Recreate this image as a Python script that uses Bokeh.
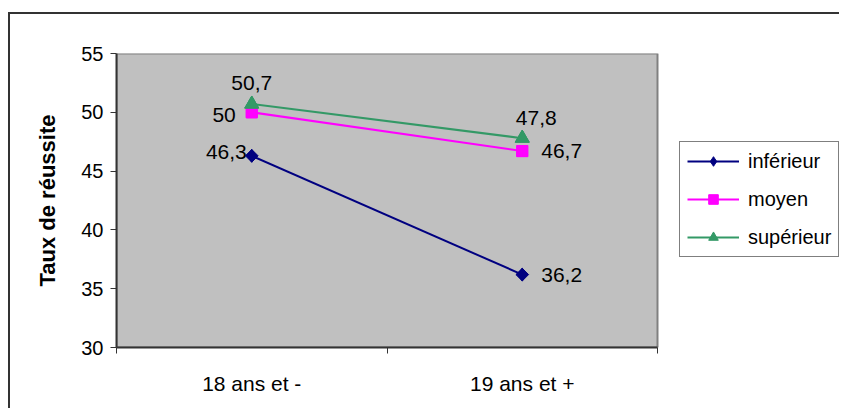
import math

from bokeh.core.properties import field, value
from bokeh.embed import file_html
from bokeh.layouts import column
from bokeh.models import (ColumnDataSource, FixedTicker, Legend, LegendItem,
                          Range1d)
from bokeh.plotting import figure
from bokeh.resources import INLINE

# Age groups on the x axis
categories = ["18 ans et -", "19 ans et +"]

# Success rate (%) per level
inferieur = [46.3, 36.2]
moyen = [50.0, 46.7]
superieur = [50.7, 47.8]

series_names = ["inférieur", "moyen", "supérieur"]
y_ticks = [30, 35, 40, 45, 50, 55]
y_lo, y_hi = 30, 55

FONT = "Liberation Sans"

n = len(categories)
xs = [i + 0.5 for i in range(n)]

# The frame runs on to the right edge so the legend can sit beside the plot
# area; the grey plot area itself covers x = 0..n.
PLOT_W, FRAME_W = 541, 723
x_end = n * FRAME_W / PLOT_W

p = figure(width=829, height=394,
           x_range=Range1d(0, x_end), y_range=Range1d(y_lo, y_hi),
           output_backend="svg", toolbar_location=None,
           min_border_left=106, min_border_right=0,
           min_border_top=39, min_border_bottom=61)

p.background_fill_color = "white"
p.border_fill_color = "white"
p.outline_line_color = None
p.grid.visible = False

# grey plot area
p.quad(left=[0], right=[n], bottom=[y_lo], top=[y_hi],
       fill_color="#C0C0C0", line_color="#808080", line_width=2)

# y axis
p.yaxis.ticker = FixedTicker(ticks=y_ticks)
p.yaxis.axis_line_color = "#333333"
p.yaxis.axis_line_width = 2
p.yaxis.major_tick_line_color = "#333333"
p.yaxis.major_tick_out = 6
p.yaxis.major_tick_in = 0
p.yaxis.minor_tick_line_color = None
p.yaxis.major_label_text_font = FONT
p.yaxis.major_label_text_font_size = "20px"
p.yaxis.major_label_text_color = "black"
p.yaxis.major_label_standoff = 7
p.yaxis.axis_label = "Taux de réussite"
p.yaxis.axis_label_text_font = FONT
p.yaxis.axis_label_text_font_size = "22px"
p.yaxis.axis_label_text_font_style = "bold"
p.yaxis.axis_label_text_color = "black"
p.yaxis.axis_label_standoff = 18

# x axis: labels at category centres, tick marks at category boundaries
p.xaxis.bounds = (0, n)
p.xaxis.ticker = FixedTicker(ticks=xs, minor_ticks=list(range(n + 1)))
p.xaxis.major_label_overrides = {x: c for x, c in zip(xs, categories)}
p.xaxis.axis_line_color = "#333333"
p.xaxis.axis_line_width = 2
p.xaxis.major_tick_out = 0
p.xaxis.major_tick_in = 0
p.xaxis.minor_tick_out = 6
p.xaxis.minor_tick_in = 0
p.xaxis.minor_tick_line_color = "#333333"
p.xaxis.major_label_text_font = FONT
p.xaxis.major_label_text_font_size = "21px"
p.xaxis.major_label_text_color = "black"
p.xaxis.major_label_standoff = 18

# (values, colour, legend marker, legend size, plot marker, plot size, plot angle)
styles = [
    (inferieur, "#000080", "diamond", 13, "square", 9, math.pi / 4),
    (moyen, "#FF00FF", "square", 11, "square", 11, 0),
    (superieur, "#339966", "triangle", 14, "triangle", 14, 0),
]

items = []
for name, (vals, color, lg_marker, lg_size, marker, size, angle) in zip(series_names, styles):
    src = ColumnDataSource(dict(x=xs, y=vals))
    ln = p.line("x", "y", source=src, line_color=color, line_width=2)
    lg = p.scatter("x", "y", source=src, marker=lg_marker, size=lg_size,
                   fill_color=color, line_color=color)
    p.scatter("x", "y", source=src, marker=marker, size=size, angle=angle,
              fill_color=color, line_color=color)
    items.append(LegendItem(label=name, renderers=[ln, lg]))

# value labels next to each point
lab_x, lab_y, lab_t, lab_dx, lab_dy, lab_align, lab_base = [], [], [], [], [], [], []
placements = [
    (inferieur, [(-5, -4, "right", "middle"), (19, 0, "left", "middle")]),
    (moyen, [(-16, 3, "right", "middle"), (19, 0, "left", "middle")]),
    (superieur, [(0, -14, "center", "bottom"), (14, -13, "center", "bottom")]),
]
for vals, places in placements:
    for x, v, (dx, dy, al, bl) in zip(xs, vals, places):
        lab_x.append(x)
        lab_y.append(v)
        lab_t.append(f"{v:g}".replace(".", ","))
        lab_dx.append(dx)
        lab_dy.append(dy)
        lab_align.append(al)
        lab_base.append(bl)

lab_src = ColumnDataSource(dict(x=lab_x, y=lab_y, text=lab_t, dx=lab_dx, dy=lab_dy,
                                align=lab_align, base=lab_base))
p.text("x", "y", text="text", source=lab_src, x_offset="dx", y_offset="dy",
       text_align=field("align"), text_baseline=field("base"),
       text_font=value(FONT), text_font_size="21px", text_color="black")

legend = Legend(items=items, location=(563, 90), orientation="vertical",
                border_line_color="black", border_line_width=1,
                background_fill_color="white", background_fill_alpha=1,
                glyph_width=52, glyph_height=24, label_height=24,
                label_standoff=9, spacing=14, padding=7, margin=0,
                label_text_font=FONT, label_text_font_size="20px",
                label_text_color="black")
p.add_layout(legend, "center")

# chart-area border: only its top and left edges fall inside the window
page = column(p, styles={"margin-left": "8px", "margin-top": "12px",
                         "vertical-align": "top",
                         "border-left": "2px solid #333333",
                         "border-top": "2px solid #333333"})

open("out.html", "w").write(file_html(page, INLINE))
